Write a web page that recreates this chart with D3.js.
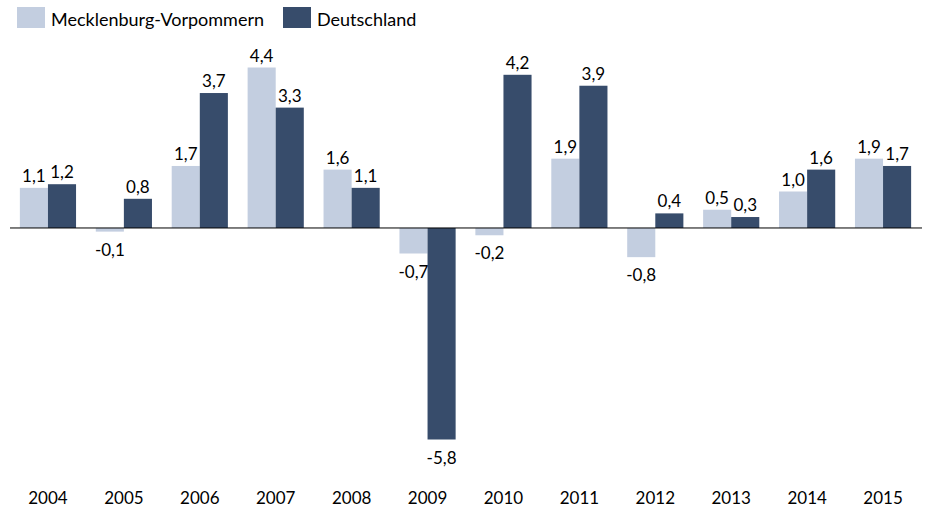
<!DOCTYPE html>
<html>
<head>
	<meta charset="UTF-8" />
	<title>Wachstum MV vs Deutschland</title>
	<script src="https://d3js.org/d3.v7.min.js"></script>
	<style>
		body { margin: 0; background: #fff; }
		text { font-family: Lato, "Open Sans", sans-serif; fill: #000; }
	</style>
</head>
<body>
	<svg id="chart"></svg>

	<script type="text/javascript">
	// colours
	var light = "#c3cee0"
	var dark = "#374c6b"

	var years = ["2004","2005","2006","2007","2008","2009","2010","2011","2012","2013","2014","2015"]
	var mv = [1.1, -0.1, 1.7, 4.4, 1.6, -0.7, -0.2, 1.9, -0.8, 0.5, 1.0, 1.9]
	var de = [1.2, 0.8, 3.7, 3.3, 1.1, -5.8, 4.2, 3.9, 0.4, 0.3, 1.6, 1.7]
	var seriesNames = ["Mecklenburg-Vorpommern", "Deutschland"]

	var W = 941, H = 508
	var svg = d3.select("#chart").attr("width", W).attr("height", H)

	var x = d3.scaleBand().domain(years).range([10, 921]).paddingInner(0.26).paddingOuter(0.13)
	var xs = d3.scaleBand().domain([0, 1]).range([0, x.bandwidth()])
	var y = d3.scaleLinear().domain([-5.8, 4.4]).range([439.5, 67.5])

	var fmt = v => d3.format(".1f")(v).replace(".", ",").replace("−", "-")

	var rows = years.map((yr, i) => ({ year: yr, vals: [mv[i], de[i]] }))

	var g = svg.selectAll(".grp").data(rows).enter().append("g")
		.attr("class", "grp")
		.attr("transform", d => "translate(" + x(d.year) + ",0)")

	g.selectAll("rect").data(d => d.vals).enter().append("rect")
		.attr("x", (v, j) => xs(j))
		.attr("width", xs.bandwidth())
		.attr("y", v => Math.min(y(v), y(0)))
		.attr("height", v => Math.abs(y(v) - y(0)))
		.attr("fill", (v, j) => j == 0 ? light : dark)

	g.selectAll(".lbl").data(d => d.vals).enter().append("text")
		.attr("class", "lbl")
		.attr("x", (v, j) => xs(j) + xs.bandwidth() / 2)
		.attr("y", v => v >= 0 ? y(v) - 6 : y(v) + 24)
		.attr("text-anchor", "middle")
		.style("font-size", "17px")
		.text(v => fmt(v))

	// zero line
	svg.append("line")
		.attr("x1", 10).attr("x2", 922)
		.attr("y1", y(0)).attr("y2", y(0))
		.attr("stroke", "#000").attr("stroke-width", 1)

	// year labels
	var xAxis = d3.axisBottom(x).tickSize(0).tickPadding(0)
	var ax = svg.append("g").attr("transform", "translate(0,504)").call(xAxis)
	ax.select(".domain").remove()
	ax.selectAll("text").attr("dy", 0).attr("y", 0)
		.style("font-size", "17px").style("font-family", "Lato, 'Open Sans', sans-serif")

	// legend
	var leg = svg.append("g")
	var legX = [17, 283]
	seriesNames.forEach((n, i) => {
		leg.append("rect").attr("x", legX[i]).attr("y", 7).attr("width", 28).attr("height", 21)
			.attr("fill", i == 0 ? light : dark)
		leg.append("text").attr("x", legX[i] + 34).attr("y", 26)
			.style("font-size", "18px").text(n)
	})
	</script>
</body>
</html>
